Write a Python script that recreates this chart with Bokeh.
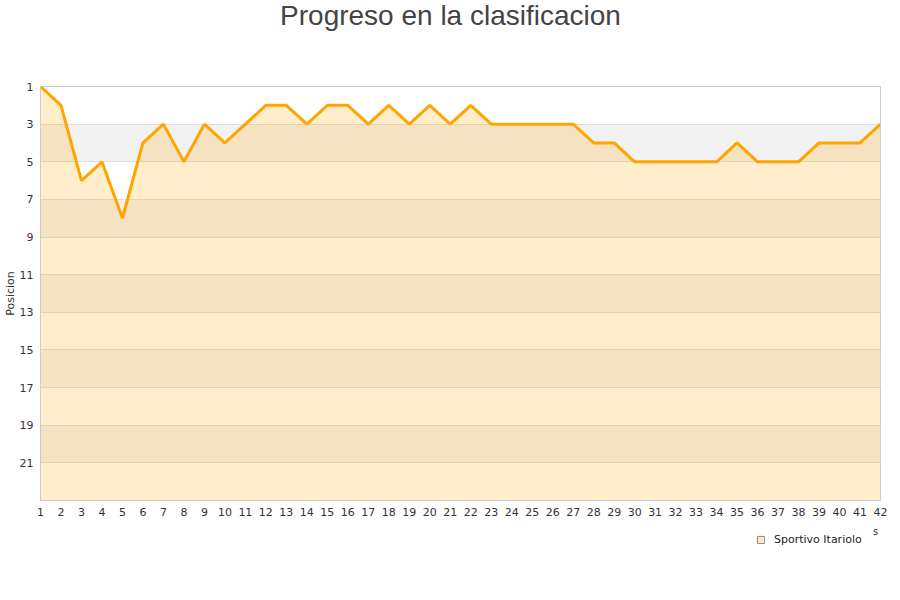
from bokeh.plotting import figure
from bokeh.models import Range1d, FixedTicker, Legend, LegendItem, Label, ColumnDataSource
from bokeh.layouts import column
from bokeh.embed import file_html
from bokeh.resources import INLINE

jornadas = list(range(1, 43))
posicion = [1, 2, 6, 5, 8, 4, 3, 5, 3, 4, 3, 2, 2, 3, 2, 2, 3, 2, 3, 2, 3,
            2, 3, 3, 3, 3, 3, 4, 4, 5, 5, 5, 5, 5, 4, 5, 5, 5, 4, 4, 4, 3]
y_ticks = list(range(1, 22, 2))
team = "Sportivo Itariolo"
title = "Progreso en la clasificacion"

src = ColumnDataSource(dict(x=jornadas, y=posicion, base=[23] * len(jornadas)))

AREA_COLOR = "#ffa500"


def blank_strip(height):
    f = figure(width=900, height=height, output_backend="svg", toolbar_location=None,
               x_range=Range1d(0, 1), y_range=Range1d(0, 1),
               x_axis_type=None, y_axis_type=None,
               min_border=0, min_border_left=0, min_border_right=0,
               min_border_top=0, min_border_bottom=0)
    f.outline_line_color = None
    f.xgrid.grid_line_color = None
    f.ygrid.grid_line_color = None
    return f


# title strip
top = blank_strip(40)
top.add_layout(Label(x=410, y=25, x_units="screen", y_units="screen", text=title,
                     text_align="center", text_baseline="middle",
                     text_font="Liberation Sans", text_font_size="28px",
                     text_color="#444444"))

p = figure(width=900, height=482, output_backend="svg", toolbar_location=None,
           x_range=Range1d(1, 42), y_range=Range1d(23, 1),
           min_border_left=40, min_border_right=20, min_border_top=46, min_border_bottom=22)

p.outline_line_color = "#cccccc"
p.background_fill_color = "white"
p.border_fill_color = "white"

p.ygrid.ticker = FixedTicker(ticks=y_ticks + [23])
p.ygrid.grid_line_color = "#dddddd"
p.ygrid.band_fill_color = "#f2f2f2"
p.ygrid.band_fill_alpha = 1.0
p.xgrid.grid_line_color = None

p.varea(x="x", y1="y", y2="base", source=src, fill_color=AREA_COLOR, fill_alpha=0.2)
p.line(x="x", y="y", source=src, line_color=AREA_COLOR, line_width=3)

p.xaxis.ticker = FixedTicker(ticks=jornadas)
p.yaxis.ticker = FixedTicker(ticks=y_ticks)
for ax in (p.xaxis, p.yaxis):
    ax.major_tick_line_color = None
    ax.minor_tick_line_color = None
    ax.major_tick_out = 0
    ax.major_tick_in = 0
    ax.axis_line_color = "#cccccc"
    ax.major_label_text_font = "DejaVu Sans"
    ax.major_label_text_font_size = "11px"
    ax.major_label_text_color = "#333333"
    ax.axis_label_text_font = "DejaVu Sans"
    ax.axis_label_text_font_size = "11px"
    ax.axis_label_text_font_style = "normal"
    ax.axis_label_text_color = "#333333"
p.yaxis.axis_label = "Posicion"
p.yaxis.axis_label_standoff = 0
p.xaxis.major_label_standoff = 7
p.yaxis.major_label_standoff = 7

# legend strip underneath the chart (swatch renderer kept outside the visible range)
leg = blank_strip(78)
swatch = leg.quad(left=[5], right=[6], top=[6], bottom=[5], fill_color="#fde9c4",
                  fill_alpha=1.0, line_color="#888888", line_width=1)
legend = Legend(items=[LegendItem(label=team, renderers=[swatch])],
                location=(716, 54), orientation="horizontal", padding=0, margin=0,
                label_standoff=9,
                label_text_font="DejaVu Sans", label_text_font_size="11px",
                label_text_color="#222222", glyph_width=9, glyph_height=9,
                border_line_color=None, background_fill_alpha=0)
leg.add_layout(legend, "center")
leg.add_layout(Label(x=835, y=69, x_units="screen", y_units="screen", text="s",
                     text_align="center", text_baseline="middle",
                     text_font="DejaVu Sans", text_font_size="10px", text_color="#333333"))

layout = column(top, p, leg, spacing=0)
open("out.html", "w").write(file_html(layout, INLINE))
